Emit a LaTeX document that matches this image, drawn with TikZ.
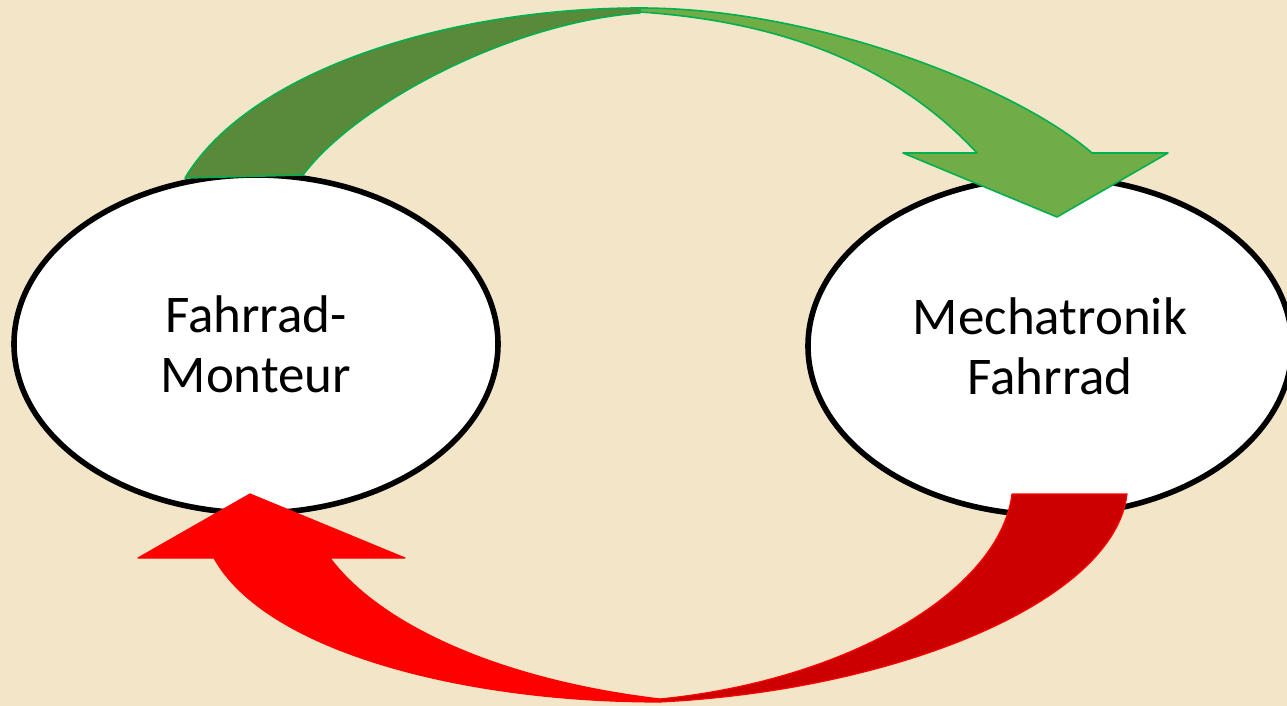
\documentclass[tikz,border=0pt]{standalone}
\usepackage{fontspec}
\setmainfont{Carlito}
\usetikzlibrary{shapes.geometric}
\definecolor{paper}{RGB}{243,229,199}
\definecolor{greenback}{RGB}{88,138,57}
\definecolor{greenfront}{RGB}{112,173,71}
\definecolor{greenline}{RGB}{0,176,80}
\definecolor{redback}{RGB}{204,0,0}
\definecolor{redfront}{RGB}{255,0,0}
\begin{document}
\begin{tikzpicture}[x=0.5pt,y=-0.5pt,
    station/.style={ellipse,draw=black,line width=2.8pt,fill=white,
      minimum width=242pt,minimum height=169pt,inner sep=0pt,
      align=center,font=\fontsize{26.5}{30}\selectfont},
    greenpart/.style={draw=greenline,line width=0.8pt,line join=round},
    redpart/.style={draw=redfront,line width=0.6pt,line join=round}]
    \path[use as bounding box,fill=paper] (0,0) rectangle (1287,706);
    \node[station] (monteur) at (256,344) {Fahrrad-\\Monteur};
    \node[station] (mechatronik) at (1050,346) {Mechatronik\\Fahrrad};
    % green arrow, back and front half
    \draw[greenpart,fill=greenback] (185,178) .. controls (250,70) and (450,8) .. (640,8)
      -- (640,13) .. controls (510,22) and (355,105) .. (303,175) -- cycle;
    \draw[greenpart,fill=greenfront] (640,8) .. controls (820,8) and (1020,90) .. (1092,153)
      -- (1168,153) -- (1057,217) -- (903,153) -- (977,153)
      .. controls (900,70) and (790,22) .. (640,12) -- cycle;
    % red arrow, back and front half
    \draw[redpart,fill=redback] (1012,494) -- (1127,494)
      .. controls (1115,600) and (900,690) .. (660,702)
      -- (660,699) .. controls (850,680) and (1000,590) .. (1012,494) -- cycle;
    \draw[redpart,fill=redfront] (660,702) .. controls (460,702) and (265,650) .. (214,558)
      -- (138,558) -- (250,494) -- (405,558) -- (330,558)
      .. controls (380,625) and (500,680) .. (660,699) -- cycle;
\end{tikzpicture}
\end{document}
